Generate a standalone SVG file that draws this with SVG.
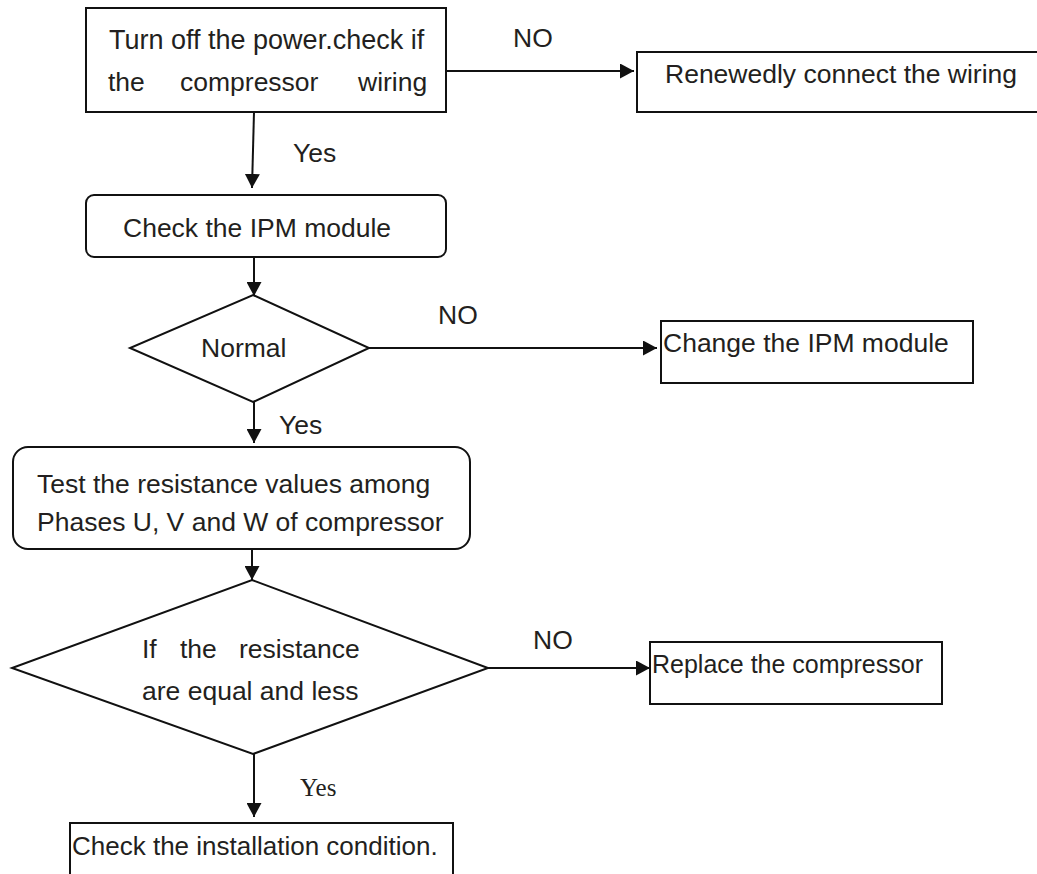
<svg xmlns="http://www.w3.org/2000/svg" width="1037" height="874" viewBox="0 0 1037 874">
<style>
.box{fill:#fff;stroke:#111;stroke-width:2}
.ln{fill:none;stroke:#111;stroke-width:2}
.t{font-family:"Liberation Sans",Arial,sans-serif;font-size:26.5px;fill:#231f20}
.ts{font-family:"Liberation Serif","Times New Roman",serif;font-size:25px;fill:#231f20}
</style>
<defs>
<marker id="ahd" viewBox="0 0 14 15" refX="14" refY="7.5" markerWidth="14" markerHeight="15" markerUnits="userSpaceOnUse" orient="auto">
<path d="M0,0 L14,7.5 L0,15 Z" fill="#111"/>
</marker>
</defs>
<rect width="1037" height="874" fill="#fff"/>
<g id="connectors">
<line class="ln" x1="446" y1="71" x2="634" y2="71" marker-end="url(#ahd)"/>
<line class="ln" x1="254" y1="112" x2="252" y2="188" marker-end="url(#ahd)"/>
<line class="ln" x1="254" y1="257" x2="254" y2="296" marker-end="url(#ahd)"/>
<line class="ln" x1="369" y1="348" x2="657" y2="348" marker-end="url(#ahd)"/>
<line class="ln" x1="254" y1="402" x2="254" y2="443" marker-end="url(#ahd)"/>
<line class="ln" x1="252" y1="542" x2="252" y2="580" marker-end="url(#ahd)"/>
<line class="ln" x1="488" y1="668" x2="650" y2="668" marker-end="url(#ahd)"/>
<line class="ln" x1="254" y1="754" x2="254" y2="817" marker-end="url(#ahd)"/>
<text class="t" x="513" y="47">NO</text>
<text class="t" x="293" y="162">Yes</text>
<text class="t" x="438" y="324">NO</text>
<text class="t" x="279" y="434">Yes</text>
<text class="t" x="533" y="649">NO</text>
<text class="ts" x="300" y="796">Yes</text>
</g>
<g id="n1">
<rect class="box" x="86" y="8" width="360" height="104"/>
<text class="t" x="109" y="49" style="font-size:27px">Turn off the power.check if</text>
<text class="t" y="91"><tspan x="108">the</tspan><tspan x="180">compressor</tspan><tspan x="358">wiring</tspan></text>
</g>
<g id="n2">
<rect class="box" x="637" y="52" width="420" height="60"/>
<text class="t" x="665" y="83">Renewedly connect the wiring</text>
</g>
<g id="n3">
<rect class="box" x="86" y="195" width="360" height="62" rx="8"/>
<text class="t" x="123" y="237">Check the IPM module</text>
</g>
<g id="n4">
<polygon class="box" points="253,295 369,348 253,402 130,348"/>
<text class="t" x="201" y="357">Normal</text>
</g>
<g id="n5">
<rect class="box" x="661" y="321" width="312" height="62"/>
<text class="t" x="663" y="352">Change the IPM module</text>
</g>
<g id="n6">
<rect class="box" x="13" y="447" width="457" height="102" rx="15"/>
<text class="t" x="37" y="493">Test the resistance values among</text>
<text class="t" x="37" y="531">Phases U, V and W of compressor</text>
</g>
<g id="n7">
<polygon class="box" points="252,580 488,668 253,754 12,668"/>
<text class="t" y="658"><tspan x="142">If</tspan><tspan x="180">the</tspan><tspan x="239">resistance</tspan></text>
<text class="t" x="142" y="700">are equal and less</text>
</g>
<g id="n8">
<rect class="box" x="650" y="642" width="292" height="62"/>
<text class="t" x="652" y="673" style="font-size:25px">Replace the compressor</text>
</g>
<g id="n9">
<rect class="box" x="70" y="823" width="383" height="60"/>
<text class="t" x="72" y="855" style="font-size:26px">Check the installation condition.</text>
</g>
</svg>
